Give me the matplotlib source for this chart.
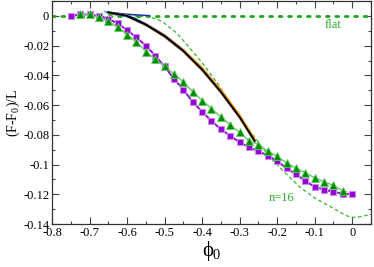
import matplotlib
matplotlib.use("Agg")
import matplotlib.pyplot as plt
from matplotlib.ticker import MultipleLocator

plt.rcParams['font.family'] = ['Liberation Serif', 'DejaVu Serif']
plt.rcParams['mathtext.fontset'] = 'custom'
plt.rcParams['mathtext.rm'] = 'Liberation Serif'
plt.rcParams['mathtext.it'] = 'Liberation Serif'

# squares series
sq_x = [-0.75, -0.725, -0.70, -0.675, -0.65, -0.625, -0.60, -0.575, -0.55, -0.525,
        -0.50, -0.475, -0.45, -0.425, -0.40, -0.375, -0.35, -0.325, -0.30, -0.275,
        -0.25, -0.225, -0.20, -0.175, -0.15, -0.125, -0.10, -0.075, -0.05, -0.025, 0.0]
sq_y = [0.0, 0.001, 0.001, 0.0, -0.002, -0.005, -0.0095, -0.0145, -0.020, -0.0267,
        -0.034, -0.0424, -0.0495, -0.058, -0.0644, -0.0707, -0.0762, -0.0807, -0.085, -0.0884,
        -0.091, -0.094, -0.0977, -0.1024, -0.1066, -0.111, -0.115, -0.1169, -0.1184, -0.1195, -0.120]

# triangles series
tr_x = [-0.725, -0.70, -0.675, -0.65, -0.625, -0.60, -0.575, -0.55, -0.525, -0.50,
        -0.475, -0.45, -0.425, -0.40, -0.375, -0.35, -0.325, -0.30, -0.275, -0.25,
        -0.225, -0.20, -0.175, -0.15, -0.125, -0.10, -0.075, -0.05, -0.025]
tr_y = [0.001, 0.001, -0.001, -0.0035, -0.0075, -0.0125, -0.0173, -0.024, -0.029, -0.034,
        -0.039, -0.0445, -0.051, -0.0569, -0.0624, -0.068, -0.0733, -0.0784, -0.084, -0.0866,
        -0.091, -0.0944, -0.0989, -0.1024, -0.1055, -0.1089, -0.1117, -0.114, -0.1177]

# n=16 dashed curve
n16_x = [-0.65, -0.60, -0.55, -0.52, -0.50, -0.47, -0.44, -0.40, -0.36, -0.32, -0.29,
         -0.25, -0.22, -0.185, -0.14, -0.10, -0.05, -0.015, 0.0, 0.02, 0.05]
n16_y = [0.001, 0.0005, -0.0005, -0.002, -0.005, -0.011, -0.0195, -0.0315, -0.045, -0.060, -0.0715,
         -0.085, -0.095, -0.104, -0.115, -0.1225, -0.1295, -0.1345, -0.1355, -0.1352, -0.1335]

# flat reference
flat_x = [-0.8, 0.05]
flat_y = [0.0, 0.0]

# bundle of continuum curves
bx = [-0.65, -0.60, -0.55, -0.50, -0.45, -0.40, -0.35, -0.30, -0.26]
by_black = [0.0025, 0.0, -0.0058, -0.0135, -0.0235, -0.036, -0.051, -0.068, -0.084]
by_orange = [0.0025, 0.0, -0.0055, -0.013, -0.0228, -0.035, -0.0498, -0.0668, -0.083]
by_brown = [0.002, -0.0003, -0.0062, -0.014, -0.024, -0.0365, -0.0515, -0.0685, -0.0845]
blue_x = [-0.655, -0.62, -0.58, -0.55, -0.50, -0.45]
blue_y = [0.0025, 0.001, -0.0015, -0.0055, -0.0132, -0.0233]
cyan_x = [-0.66, -0.63, -0.60]
cyan_y = [0.003, 0.0012, -0.0005]
blue2_x = [-0.65, -0.60, -0.56, -0.54]
blue2_y = [0.0025, 0.0012, 0.0005, 0.0002]

fig = plt.figure(figsize=(3.74, 2.67), dpi=100)
ax = fig.add_axes([0.139, 0.161, 0.853, 0.835])

ax.plot(flat_x, flat_y, color='#1fa51f', ls=(0, (1, 2.4)), lw=2.0, dash_capstyle='round')
ax.plot(n16_x, n16_y, color='#3cb33c', ls=(0, (3, 2)), lw=0.9)

ax.plot(blue2_x, blue2_y, color='#1a2fb0', lw=1.0)
ax.plot(bx, by_orange, color='#f0a020', lw=1.6)
ax.plot(bx, by_brown, color='#8b5a2b', lw=1.4)
ax.plot(blue_x, blue_y, color='#2040d0', lw=1.2)
ax.plot(cyan_x, cyan_y, color='#30c8f0', lw=1.0)
ax.plot(bx, by_black, color='black', lw=1.3)

ax.plot(sq_x, sq_y, color='#9400d3', lw=1.3, marker='s', ms=4.6,
        mfc='#9400d3', mec='#c68af0', mew=0.8)
ax.plot(tr_x, tr_y, color='#6cc66c', lw=1.0, marker='^', ms=5.6,
        mfc='#008b00', mec='#5fcf5f', mew=0.6)

ax.text(-0.05, -0.0063, 'flat', color='#2aa52a', fontsize=9, ha='center', va='center')
ax.text(-0.188, -0.1227, 'n=16', color='#2aa52a', fontsize=9, ha='center', va='center')

ax.set_xlim(-0.8, 0.05)
ax.set_ylim(-0.14, 0.01)
ax.xaxis.set_minor_locator(MultipleLocator(0.05))
ax.yaxis.set_minor_locator(MultipleLocator(0.01))
ax.set_xticks([-0.8, -0.7, -0.6, -0.5, -0.4, -0.3, -0.2, -0.1, 0.0])
ax.set_xticklabels(['-0.8', '-0.7', '-0.6', '-0.5', '-0.4', '-0.3', '-0.2', '-0.1', '0'])
ax.set_yticks([0.0, -0.02, -0.04, -0.06, -0.08, -0.10, -0.12, -0.14])
ax.set_yticklabels(['0', '-0.02', '-0.04', '-0.06', '-0.08', '-0.1', '-0.12', '-0.14'])

ax.tick_params(which='both', direction='in', top=True, right=True, labelsize=9,
               color='#444444', width=0.8, pad=2)
ax.tick_params(which='major', length=5)
ax.tick_params(which='minor', length=2.5)
for s in ax.spines.values():
    s.set_color('#333333')
    s.set_linewidth(0.9)

ax.set_ylabel('(F-F$_0$)/L', fontsize=10, labelpad=1)
ax.set_xlabel('$\\phi_0$', fontsize=15, labelpad=0)

fig.savefig('out.png', dpi=100)
